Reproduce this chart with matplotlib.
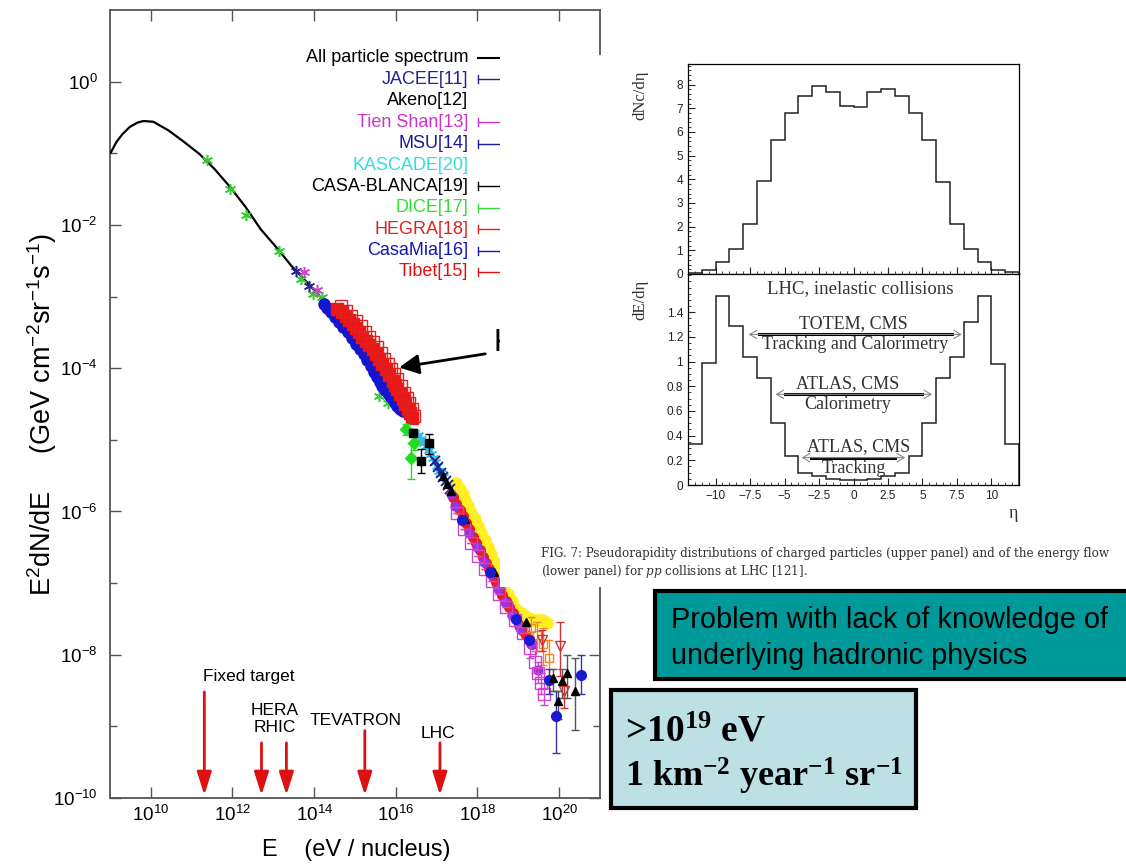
import numpy as np
import matplotlib
matplotlib.use('Agg')
import matplotlib.pyplot as plt
from matplotlib.patches import Rectangle
from matplotlib.lines import Line2D

plt.rcParams['font.family'] = ['Liberation Sans', 'DejaVu Sans']
plt.rcParams['mathtext.default'] = 'regular'
plt.rcParams['mathtext.fontset'] = 'custom'
plt.rcParams['mathtext.it'] = 'DejaVu Serif:italic'

W, H = 1126, 867


def fx(x):
    return x / W


def fy(y):
    return 1 - y / H


# ---------------- cosmic ray spectrum (log10 E [eV], log10 E^2 dN/dE) ----------------
spec_logE = [9.02, 9.16, 9.31, 9.49, 9.68, 9.82, 10.06, 10.43, 10.81, 11.19, 11.56,
             11.94, 12.32, 12.69, 13.07, 13.44, 13.82, 14.20, 14.35]
spec_logF = [-0.99, -0.84, -0.73, -0.63, -0.57, -0.55, -0.56, -0.68, -0.84, -1.01, -1.22,
             -1.47, -1.75, -2.06, -2.31, -2.57, -2.80, -3.03, -3.12]

direct_logE = [11.38, 11.94, 12.34, 13.13, 13.68, 13.96, 14.20, 15.59, 15.80]
direct_logF = [-1.10, -1.50, -1.86, -2.37, -2.76, -2.97, -3.01, -4.39, -4.48]

jacee_logE = [13.55, 13.87]
jacee_logF = [-2.64, -2.85]
tienshan_logE = [13.75, 14.07]
tienshan_logF = [-2.66, -2.91]

casamia_logE = [14.23, 14.32, 14.41, 14.51, 14.61, 14.71, 14.82, 14.92, 15.02, 15.12, 15.22, 15.30,
                15.39, 15.47, 15.55, 15.61, 15.67, 15.74, 15.80, 15.86, 15.92, 15.98, 16.04, 16.10, 16.17]
casamia_logF = [-3.10, -3.16, -3.22, -3.29, -3.36, -3.43, -3.50, -3.58, -3.66, -3.73, -3.80, -3.88,
                -3.97, -4.05, -4.13, -4.19, -4.25, -4.30, -4.34, -4.39, -4.43, -4.48, -4.53, -4.57, -4.60]

tibet_logE = [14.57, 14.67, 14.77, 14.85, 14.94, 15.02, 15.10, 15.18, 15.27, 15.35, 15.43, 15.51,
              15.59, 15.67, 15.76, 15.84, 15.92, 15.98, 16.04, 16.10, 16.17, 16.23, 16.29, 16.34, 16.39]
tibet_logF = [-3.18, -3.22, -3.27, -3.33, -3.39, -3.44, -3.50, -3.56, -3.62, -3.67, -3.73, -3.80,
              -3.87, -3.94, -4.01, -4.10, -4.18, -4.23, -4.29, -4.36, -4.43, -4.50, -4.57, -4.63, -4.69]

hegra_logE = [14.65, 14.78, 14.90, 15.02, 15.14, 15.25, 15.35, 15.45, 15.55, 15.64, 15.72, 15.80,
              15.88, 15.96, 16.04, 16.12, 16.21, 16.27, 16.33, 16.39, 16.45]
hegra_logF = [-3.13, -3.20, -3.27, -3.34, -3.41, -3.49, -3.57, -3.64, -3.71, -3.79, -3.87, -3.94,
              -4.01, -4.08, -4.15, -4.25, -4.34, -4.41, -4.48, -4.57, -4.67]

dice_logE = [16.25, 16.37, 16.45]
dice_logF = [-4.85, -5.25, -5.04]
dice_lo = [-4.93, -5.55, -5.14]
dice_hi = [-4.78, -5.04, -4.96]

casablanca_logE = [16.41, 16.62, 16.82]
casablanca_logF = [-4.90, -5.30, -5.04]
casablanca_lo = [-4.95, -5.46, -5.20]
casablanca_hi = [-4.85, -5.13, -4.92]

kascade_logE = [16.55, 16.62, 16.68, 16.74, 16.80, 16.86, 16.91, 16.96, 17.01, 17.06, 17.11, 17.16]
kascade_logF = [-4.93, -4.99, -5.04, -5.09, -5.14, -5.20, -5.25, -5.31, -5.37, -5.43, -5.47, -5.52]

msu_logE = [16.95, 17.03, 17.10, 17.16, 17.22, 17.27, 17.32]
msu_logF = [-5.30, -5.38, -5.46, -5.52, -5.58, -5.63, -5.68]

akeno_logE = [17.16, 17.26, 17.35, 17.70, 18.40, 19.20]
akeno_logF = [-5.50, -5.61, -5.71, -6.10, -6.85, -7.55]

# highest energies (no legend entry in the original)
yellow_logE = [17.48, 17.56, 17.64, 17.70, 17.76, 17.85, 17.93, 18.01, 18.09, 18.18, 18.26, 18.34,
               18.42, 18.50, 18.58, 18.66, 18.75, 18.84, 18.92, 19.00, 19.07, 19.14, 19.20, 19.26,
               19.32, 19.39, 19.45, 19.51, 19.57, 19.63, 19.69]
yellow_logF = [-5.60, -5.68, -5.76, -5.84, -5.93, -6.02, -6.11, -6.20, -6.30, -6.40, -6.49, -6.59,
               -6.70, -6.81, -6.92, -7.03, -7.15, -7.25, -7.35, -7.39, -7.42, -7.45, -7.47, -7.49,
               -7.51, -7.52, -7.52, -7.51, -7.51, -7.53, -7.56]

redc_logE = [17.40, 17.48, 17.56, 17.64, 17.72, 17.80, 17.88, 17.96, 18.05, 18.13, 18.21, 18.29,
             18.37, 18.45, 18.53, 18.61, 18.70, 18.78, 18.86, 18.94, 19.02, 19.10, 19.18, 19.26, 19.34]
redc_logF = [-5.80, -5.89, -5.98, -6.07, -6.16, -6.25, -6.35, -6.44, -6.54, -6.63, -6.72, -6.81,
             -6.90, -6.98, -7.07, -7.16, -7.25, -7.33, -7.42, -7.50, -7.58, -7.65, -7.72, -7.78, -7.85]

mag_logE = [17.50, 17.68, 17.85, 18.02, 18.19, 18.36, 18.53, 18.71, 18.91, 19.11, 19.28, 19.40,
            19.48, 19.56, 19.62]
mag_logF = [-6.02, -6.24, -6.44, -6.62, -6.80, -6.97, -7.15, -7.33, -7.51, -7.70, -7.90, -8.10,
            -8.25, -8.40, -8.55]

purple_logE = [17.36, 17.45, 17.62, 17.80, 17.98, 18.15, 18.32, 18.50, 18.68, 18.85, 19.05, 19.30, 19.48]
purple_logF = [-5.76, -5.92, -6.12, -6.30, -6.50, -6.70, -6.88, -7.08, -7.27, -7.45, -7.62, -7.85, -8.21]

uhe_blue_logE = [17.62, 18.30, 18.95, 19.25, 19.75, 19.93, 20.53]
uhe_blue_logF = [-6.12, -6.85, -7.50, -7.80, -8.35, -8.86, -8.28]
uhe_blue_lo = [-6.12, -6.85, -7.50, -7.80, -8.55, -9.37, -8.55]
uhe_blue_hi = [-6.12, -6.85, -7.50, -7.80, -8.20, -8.50, -8.00]

uhe_black_logE = [19.85, 19.97, 20.06, 20.20, 20.38]
uhe_black_logF = [-8.33, -8.65, -8.37, -8.25, -8.51]
uhe_black_lo = [-8.50, -8.90, -8.60, -8.60, -9.05]
uhe_black_hi = [-8.20, -8.50, -8.20, -8.00, -8.04]

uhe_red_logE = [19.58, 20.01, 20.12]
uhe_red_logF = [-7.80, -7.88, -8.51]
uhe_red_lo = [-7.95, -8.30, -8.75]
uhe_red_hi = [-7.65, -7.55, -8.30]

orange_logE = [19.30, 19.45, 19.60, 19.75]
orange_logF = [-7.62, -7.72, -7.85, -8.05]
orange_lo = [-7.80, -7.95, -8.15, -8.40]
orange_hi = [-7.48, -7.55, -7.62, -7.80]

accel_names = ['Fixed target', 'HERA\nRHIC', '', 'TEVATRON', 'LHC']
accel_logE = [11.31, 12.71, 13.32, 15.24, 17.08]
accel_top = [-8.52, -9.23, -9.23, -9.06, -9.23]
accel_label_logE = [12.39, 13.03, 13.03, 15.02, 17.03]
accel_label_logF = [-8.31, -8.90, -8.90, -8.92, -9.10]

legend_names = ['All particle spectrum', 'JACEE[11]', 'Akeno[12]', 'Tien Shan[13]', 'MSU[14]',
                'KASCADE[20]', 'CASA-BLANCA[19]', 'DICE[17]', 'HEGRA[18]', 'CasaMia[16]', 'Tibet[15]']
legend_colors = ['black', '#22229a', 'black', '#cc33cc', '#1a1a9a', '#33dddd', 'black',
                 '#33dd33', '#dd2222', '#1515b0', '#dd1111']
legend_kind = ['line', 'err', None, 'err', 'err', None, 'err', 'err', 'err', 'err', 'err']

# ---------------- LHC pseudorapidity panels ----------------
eta_edges = np.arange(-12, 13)
dnc_deta = [0.05, 0.15, 0.5, 1.07, 2.13, 3.93, 5.68, 6.8, 7.53, 7.96, 7.69, 7.11,
            7.06, 7.69, 7.83, 7.53, 6.8, 5.68, 3.89, 2.13, 1.07, 0.5, 0.15, 0.08]
de_deta = [0.33, 0.99, 1.53, 1.29, 1.04, 0.87, 0.5, 0.235, 0.095, 0.07, 0.05, 0.04,
           0.04, 0.05, 0.07, 0.095, 0.235, 0.5, 0.87, 1.04, 1.32, 1.53, 0.98, 0.33]

# (upper text, lower text, arrow from, arrow to, bar from, bar to, level, upper x, lower x)
coverage = [
    ('TOTEM, CMS', 'Tracking and Calorimetry', -7.6, 7.85, -6.85, 7.15, 1.22, 0.0, 0.1),
    ('ATLAS, CMS', 'Calorimetry', -5.65, 5.7, -5.0, 5.0, 0.735, -0.4, -0.4),
    ('ATLAS, CMS', 'Tracking', -3.75, 3.75, -3.1, 3.0, 0.222, 0.4, 0.0),
]


def pts(le, lf):
    return 10.0 ** np.array(le), 10.0 ** np.array(lf)


def errs(lf, lo, hi):
    y = 10.0 ** np.array(lf)
    return [y - 10.0 ** np.array(lo), 10.0 ** np.array(hi) - y]


fig = plt.figure(figsize=(W / 100, H / 100), dpi=100)

ax = fig.add_axes([fx(110), fy(798), (600 - 110) / W, (798 - 10) / H])
ax.set_xscale('log')
ax.set_yscale('log')
ax.set_xlim(1e9, 1e21)
ax.set_ylim(1e-10, 1e1)

ast = (6, 2, 0)
ax.plot(*pts(spec_logE, spec_logF), color='black', lw=1.6, zorder=3)
ax.plot(*pts(direct_logE, direct_logF), ls='none', marker=ast, ms=8, mew=1.1, color='#33cc33', zorder=4)
ax.plot(*pts(jacee_logE, jacee_logF), ls='none', marker=ast, ms=8, mew=1.1, color='#22229a', zorder=4)
ax.plot(*pts(tienshan_logE, tienshan_logF), ls='none', marker=ast, ms=8, mew=1.1, color='#cc44cc', zorder=4)

ax.plot(*pts(casamia_logE, casamia_logF), ls='none', marker='o', ms=8, color='#1515d0', zorder=4)
ax.plot(*pts(tibet_logE, tibet_logF), ls='none', marker='s', ms=8, color='#ee1515', zorder=5)
ax.plot(*pts(hegra_logE, hegra_logF), ls='none', marker='s', ms=8, mfc='none', mec='#dd2222', mew=1, zorder=5)

x, y = pts(dice_logE, dice_logF)
ax.errorbar(x, y, yerr=errs(dice_logF, dice_lo, dice_hi), fmt='D', ms=6, color='#22dd22',
            capsize=3, elinewidth=1, zorder=6)
x, y = pts(casablanca_logE, casablanca_logF)
ax.errorbar(x, y, yerr=errs(casablanca_logF, casablanca_lo, casablanca_hi), fmt='s', ms=6,
            color='black', capsize=3, elinewidth=1, zorder=6)
ax.plot(*pts(kascade_logE, kascade_logF), ls='none', marker=ast, ms=8, mew=1.1, color='#33bbee', zorder=5)
ax.plot(*pts(msu_logE, msu_logF), ls='none', marker='x', ms=7, mew=1.3, color='#1a1a8a', zorder=5)

ax.plot(*pts(yellow_logE, yellow_logF), ls='none', marker='o', ms=8, color='#ffee22', zorder=4)
ax.plot(*pts(redc_logE, redc_logF), ls='none', marker='o', ms=7, color='#ee1a1a', zorder=5)
ax.plot(*pts(purple_logE, purple_logF), ls='none', marker='o', ms=6.5, color='#9933dd', zorder=5)
x, y = pts(mag_logE, mag_logF)
mag_err = [np.r_[np.zeros(10), y[10:] * (1 - 10 ** -0.15)], np.r_[np.zeros(10), y[10:] * (10 ** 0.15 - 1)]]
ax.errorbar(x, y, yerr=mag_err, fmt='s', ms=8, mfc='none', mec='#cc44cc', ecolor='#cc44cc',
            mew=1, capsize=3, elinewidth=1, zorder=5)
x, y = pts(orange_logE, orange_logF)
ax.errorbar(x, y, yerr=errs(orange_logF, orange_lo, orange_hi), fmt='s', ms=6, mfc='none',
            color='#ee8822', capsize=3, elinewidth=1, zorder=5)
ax.plot(*pts(akeno_logE, akeno_logF), ls='none', marker='^', ms=6, color='black', zorder=6)
x, y = pts(uhe_blue_logE, uhe_blue_logF)
ax.errorbar(x, y, yerr=errs(uhe_blue_logF, uhe_blue_lo, uhe_blue_hi), fmt='o', ms=7,
            color='#1a1ad0', ecolor='#3333aa', capsize=3, elinewidth=1, zorder=6)
x, y = pts(uhe_black_logE, uhe_black_logF)
ax.errorbar(x, y, yerr=errs(uhe_black_logF, uhe_black_lo, uhe_black_hi), fmt='^', ms=6,
            color='black', ecolor='#555555', capsize=3, elinewidth=1, zorder=6)
x, y = pts(uhe_red_logE, uhe_red_logF)
ax.errorbar(x, y, yerr=errs(uhe_red_logF, uhe_red_lo, uhe_red_hi), fmt='v', ms=7, mfc='none',
            color='#cc3333', capsize=3, elinewidth=1, zorder=6)

# accelerator energies
for name, le, top, tx, ty in zip(accel_names, accel_logE, accel_top, accel_label_logE, accel_label_logF):
    ax.annotate('', xy=(10 ** le, 10 ** -9.96), xytext=(10 ** le, 10 ** top),
                arrowprops=dict(arrowstyle='-|>,head_length=0.7,head_width=0.22', color='#dd1111',
                                lw=2, mutation_scale=20, shrinkA=0, shrinkB=0))
    if name:
        ax.text(10 ** tx, 10 ** ty, name, ha='center', va='center', fontsize=12.5, linespacing=1.2)

# knee arrow
ax.annotate('', xy=(10 ** 16.08, 10 ** -3.99), xytext=(10 ** 18.19, 10 ** -3.80),
            arrowprops=dict(arrowstyle='-|>,head_length=0.6,head_width=0.3', color='black',
                            lw=2, mutation_scale=20, shrinkA=0, shrinkB=0))
fig.text(fx(494), fy(343), 'Knee', fontsize=22, va='center', ha='left', zorder=2)

ax.set_xticks([10.0 ** k for k in range(10, 21, 2)])
ax.set_xticklabels(['$10^{%d}$' % k for k in range(10, 21, 2)])
ax.set_xticks([], minor=True)
ax.set_yticks([10.0 ** k for k in range(-10, 1, 2)])
ax.set_yticklabels(['$10^{%d}$' % k for k in range(-10, 1, 2)])
ax.set_yticks([10.0 ** k for k in range(-9, 1, 2)], minor=True)
ax.set_yticklabels([], minor=True)
ax.tick_params(which='both', direction='in', top=True, right=True, color='#555555', labelsize=13.5)
ax.tick_params(which='major', length=8, width=1)
ax.tick_params(which='minor', length=5, width=1)
ax.tick_params(axis='y', pad=9)
ax.tick_params(axis='x', pad=5)
for s in ax.spines.values():
    s.set_color('#555555')
    s.set_linewidth(1.3)

fig.text(fx(42), fy(414), 'E$^2$dN/dE     (GeV cm$^{-2}$sr$^{-1}$s$^{-1}$)', rotation=90,
         ha='center', va='center', fontsize=19.5)
fig.text(fx(356), fy(850), 'E    (eV / nucleus)', ha='center', va='center', fontsize=17)

# manual legend
for i, (name, col, kind) in enumerate(zip(legend_names, legend_colors, legend_kind)):
    yy = 58 + 21.4 * i
    fig.text(fx(468), fy(yy), name, color=col, ha='right', va='center', fontsize=13, zorder=2)
    if kind is not None:
        fig.add_artist(Line2D([fx(478), fx(510)], [fy(yy), fy(yy)], color=col, lw=1.5 if kind == 'line' else 1,
                              transform=fig.transFigure, zorder=2))
    if kind == 'err':
        fig.add_artist(Line2D([fx(478), fx(478)], [fy(yy - 4), fy(yy + 4)], color=col, lw=1,
                              transform=fig.transFigure, zorder=2))

# white pasted area
fig.add_artist(Rectangle((fx(500), fy(587)), (W - 500) / W, (587 - 55) / H, transform=fig.transFigure,
                         facecolor='white', edgecolor='none', zorder=10))

# ---------------- LHC panels ----------------
serif = ['Liberation Serif', 'DejaVu Serif']
ax1 = fig.add_axes([fx(688), fy(274), (1019 - 688) / W, (274 - 64) / H])
ax2 = fig.add_axes([fx(688), fy(485), (1019 - 688) / W, (485 - 274) / H])
for a in (ax1, ax2):
    a.set_zorder(11)
    a.set_xlim(-12, 12)
    a.tick_params(which='both', direction='in', top=False, right=False, labelsize=8.5, colors='#222222')
    a.tick_params(which='major', length=5, width=0.8)
    a.tick_params(which='minor', length=2.5, width=0.6)
    a.set_xticks(np.arange(-10, 11, 2.5))
    a.set_xticks(np.arange(-12, 12.1, 0.5), minor=True)
    for s in a.spines.values():
        s.set_linewidth(0.9)

ax1.stairs(dnc_deta, eta_edges, color='#222222', lw=1.1)
ax1.set_ylim(0, 8.87)
ax1.set_yticks(range(0, 9))
ax1.set_yticks(np.arange(0, 8.9, 0.2), minor=True)
ax1.set_xticklabels([])

ax2.stairs(de_deta, eta_edges, color='#222222', lw=1.1)
ax2.set_ylim(0, 1.71)
ax2.set_yticks(np.arange(0, 1.41, 0.2))
ax2.set_yticklabels(['0', '0.2', '0.4', '0.6', '0.8', '1', '1.2', '1.4'])
ax2.set_yticks(np.arange(0, 1.71, 0.05), minor=True)
ax2.set_xticklabels(['\u221210', '\u22127.5', '\u22125', '\u22122.5', '0', '2.5', '5', '7.5', '10'])

ax2.text(0.5, 1.59, 'LHC, inelastic collisions', ha='center', va='center', fontsize=13.5,
         family=serif, color='#333333')
for up, low, a0, a1, b0, b1, lev, ux, lx in coverage:
    ax2.annotate('', xy=(a1, lev), xytext=(a0, lev),
                 arrowprops=dict(arrowstyle='<->,head_length=0.5,head_width=0.3', color='#888888',
                                 lw=0.8, mutation_scale=10, shrinkA=0, shrinkB=0))
    ax2.plot([b0, b1], [lev, lev], color='black', lw=2.2)
    ax2.text(ux, lev + 0.09, up, ha='center', va='center', fontsize=13, family=serif, color='#333333')
    ax2.text(lx, lev - 0.085, low, ha='center', va='center', fontsize=13, family=serif, color='#333333')

fig.text(fx(640), fy(95), 'dNc/d\u03b7', rotation=90, ha='center', va='center', fontsize=12,
         family=serif, color='#333333', zorder=12)
fig.text(fx(640), fy(300), 'dE/d\u03b7', rotation=90, ha='center', va='center', fontsize=12,
         family=serif, color='#333333', zorder=12)
fig.text(fx(1013), fy(513), '\u03b7', ha='center', va='center', fontsize=13, family=serif,
         color='#333333', zorder=12)

cap = ['DejaVu Serif']
fig.text(fx(541), fy(553), 'FIG. 7: Pseudorapidity distributions of charged particles (upper panel) '
         'and of the energy flow', ha='left', va='center', fontsize=8.6, family=cap,
         color='#333333', zorder=12)
fig.text(fx(541), fy(572), '(lower panel) for $\\mathit{pp}$ collisions at LHC [121].', ha='left',
         va='center', fontsize=8.6, family=cap, color='#333333', zorder=12)

# teal box
fig.add_artist(Rectangle((fx(655), fy(679)), (1140 - 655) / W, (679 - 591) / H, transform=fig.transFigure,
                         facecolor='#009999', edgecolor='black', lw=3, zorder=13))
fig.text(fx(671), fy(638), 'Problem with lack of knowledge of\nunderlying hadronic physics', ha='left',
         va='center', fontsize=20.8, linespacing=1.32, zorder=14)

# light blue box
fig.add_artist(Rectangle((fx(611), fy(808)), (916 - 611) / W, (808 - 690) / H, transform=fig.transFigure,
                         facecolor='#bde0e4', edgecolor='black', lw=3, zorder=13))
fig.text(fx(625), fy(742), '>10$^{19}$ eV', ha='left', va='baseline', fontsize=27, family=serif,
         weight='bold', zorder=14)
fig.text(fx(625), fy(787), '1 km$^{-2}$ year$^{-1}$ sr$^{-1}$', ha='left', va='baseline', fontsize=26,
         family=serif, weight='bold', zorder=14)

fig.savefig('out.png', dpi=100)
